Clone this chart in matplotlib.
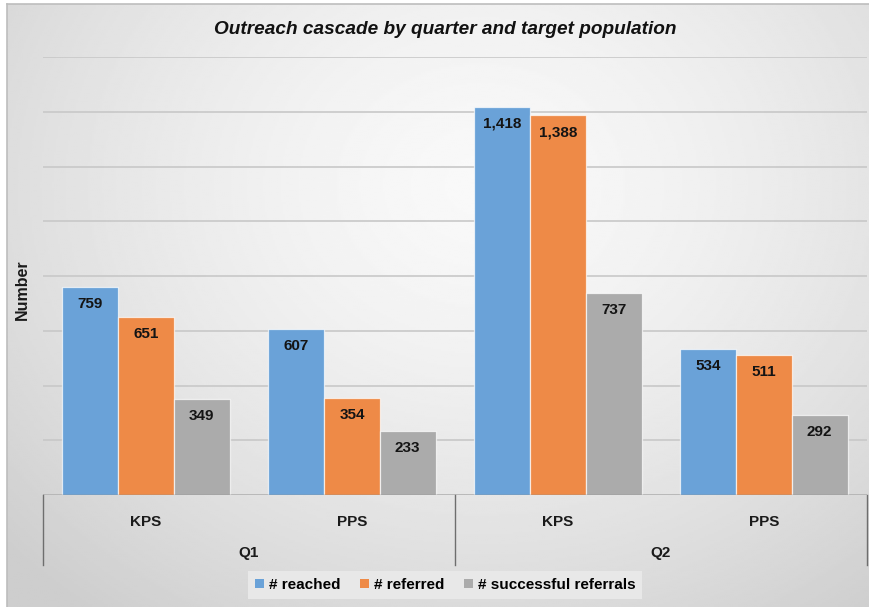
import matplotlib
matplotlib.use("Agg")
import matplotlib.pyplot as plt
import numpy as np
from matplotlib.patches import Patch

plt.rcParams["font.family"] = ["Liberation Sans", "DejaVu Sans"]

# data
groups = ["KPS", "PPS", "KPS", "PPS"]
quarters = ["Q1", "Q2"]
series = ["# reached", "# referred", "# successful referrals"]
reached = [759, 607, 1418, 534]
referred = [651, 354, 1388, 511]
successful = [349, 233, 737, 292]

colors = ["#6AA2D8", "#EE8A47", "#ABABAB"]
axis_col = "#6E6E6E"
W, H = 869, 607

fig = plt.figure(figsize=(W / 100, H / 100), dpi=100)
fig.patch.set_facecolor("white")

# soft radial background
bg = fig.add_axes([7 / W, 0, (W - 7) / W, (H - 4) / H])
ny, nx = 300, 430
X, Y = np.meshgrid(np.linspace(0, 1, nx), np.linspace(0, 1, ny))
d = np.sqrt(((X - 0.55) / 0.75) ** 2 + ((Y - 0.3) / 0.9) ** 2)
shade = 0.975 - 0.17 * np.clip(d, 0, 1) ** 1.5
bg.imshow(shade, cmap="gray", vmin=0, vmax=1, aspect="auto",
          extent=[0, 1, 0, 1], origin="upper", interpolation="bilinear")
bg.set_xticks([])
bg.set_yticks([])
for side in ("right", "bottom"):
    bg.spines[side].set_visible(False)
for side in ("top", "left"):
    bg.spines[side].set_color("#BDBDBD")
    bg.spines[side].set_linewidth(1.2)

ax = fig.add_axes([43 / W, 112 / H, 824 / W, 438 / H])
ax.patch.set_alpha(0)

x = np.arange(len(groups))
width = 1 / 3.7
for i, (vals, col) in enumerate(zip([reached, referred, successful], colors)):
    pos = x + (i - 1) * width
    bars = ax.bar(pos, vals, width, color=col, edgecolor=(1, 1, 1, 0.7),
                  linewidth=0.9, zorder=3)
    for b, v in zip(bars, vals):
        ax.annotate(f"{v:,}", (b.get_x() + b.get_width() / 2, v),
                    xytext=(0, -17), textcoords="offset pixels",
                    ha="center", va="center", fontsize=11,
                    fontweight="bold", color="#141414", zorder=4)

ax.set_xlim(-0.5, len(groups) - 0.5)
ax.set_ylim(0, 1600)
ax.set_yticks(np.arange(0, 1601, 200))
ax.set_yticklabels([])
ax.set_xticks([])
ax.tick_params(length=0)
ax.grid(axis="y", color="#C8C8C8", linewidth=1.2, zorder=0)
ax.set_axisbelow(True)
for s in ax.spines.values():
    s.set_visible(False)

# multi-level category axis
ax.axhline(0, color=axis_col, linewidth=1, zorder=5)
tr = ax.get_xaxis_transform()
for xv in (-0.5, 1.5, 3.5):
    ax.plot([xv, xv], [0, -0.16], transform=tr, color=axis_col,
            linewidth=1, clip_on=False)
for xv, lab in zip(x, groups):
    ax.text(xv, -0.062, lab, transform=tr, ha="center", va="center",
            fontsize=11, fontweight="bold", color="#1A1A1A")
for xv, lab in zip([0.5, 2.5], quarters):
    ax.text(xv, -0.132, lab, transform=tr, ha="center", va="center",
            fontsize=11, fontweight="bold", color="#1A1A1A")

fig.text(22 / W, (H - 290) / H, "Number", rotation=90, ha="center",
         va="center", fontsize=11.5, fontweight="bold", color="#1A1A1A")
fig.text(445 / W, (H - 30) / H, "Outreach cascade by quarter and target population",
         ha="center", va="center", fontsize=13.7, fontweight="bold",
         fontstyle="italic", color="#111111")

handles = [Patch(facecolor=c, edgecolor="none") for c in colors]
leg = fig.legend(handles, series, loc="center",
                 bbox_to_anchor=(445 / W, (H - 585) / H), ncol=3,
                 frameon=True, fancybox=False, facecolor="#E8E8E8",
                 edgecolor="none", framealpha=1, handlelength=0.6,
                 handleheight=0.6, handletextpad=0.3, columnspacing=1.3,
                 borderpad=0.45, prop={"size": 11, "weight": "bold"})

fig.savefig("out.png", dpi=100)
